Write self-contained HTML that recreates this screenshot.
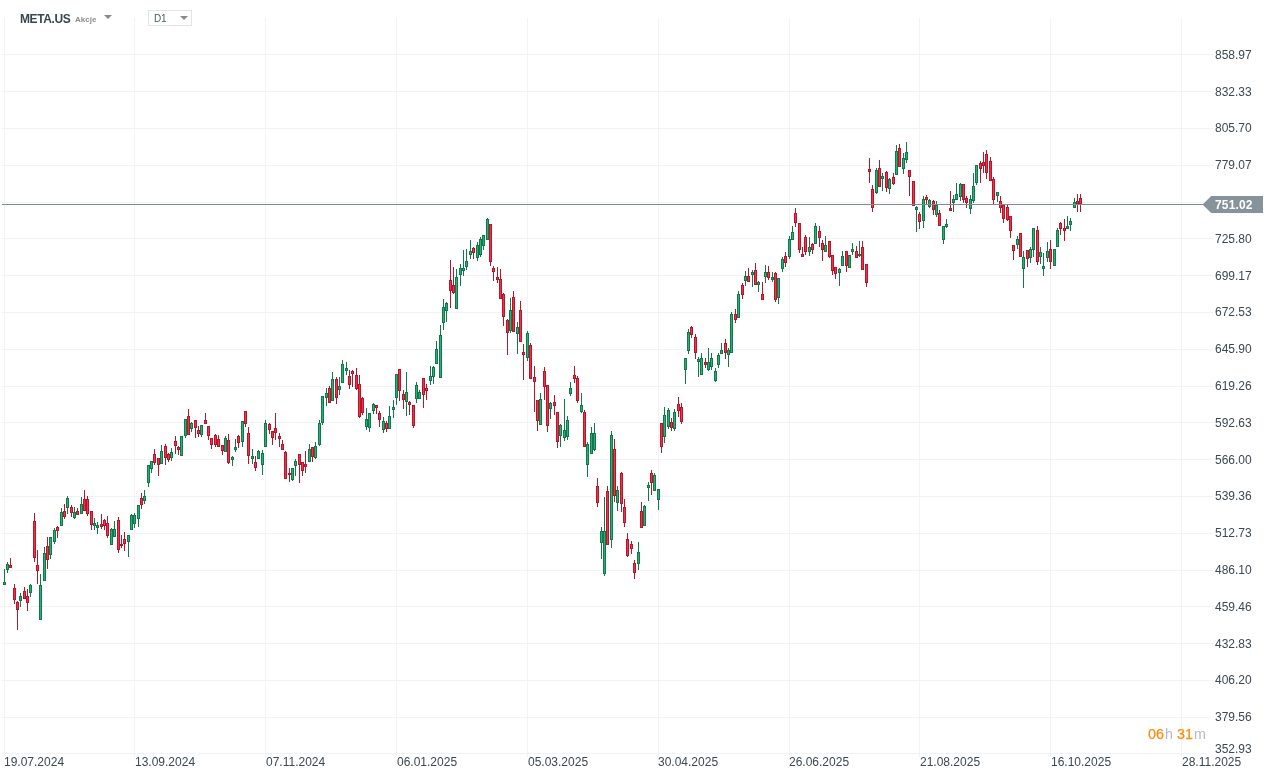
<!DOCTYPE html>
<html><head><meta charset="utf-8"><title>META.US</title>
<style>
html,body{margin:0;padding:0;background:#fff;}
div{will-change:transform;}
body{width:1275px;height:779px;overflow:hidden;position:relative;font-family:"Liberation Sans",Arial,sans-serif;}
svg{position:absolute;left:0;top:0;}
.pl{position:absolute;left:1215px;font-size:12px;line-height:14px;color:#3c4852;white-space:nowrap;}
.dl{position:absolute;top:755px;font-size:12px;line-height:14px;color:#3c4852;white-space:nowrap;}
.tag{position:absolute;left:1215px;top:197.5px;font-size:12px;line-height:14px;font-weight:bold;color:#fff;letter-spacing:0.15px;}
.sym{position:absolute;left:20px;top:12px;font-size:12px;line-height:14px;font-weight:bold;color:#37474f;letter-spacing:-0.4px;}
.typ{position:absolute;left:75px;top:15px;font-size:8px;line-height:10px;font-weight:bold;color:#8d8d8d;}
.tri{position:absolute;width:0;height:0;border-left:4px solid transparent;border-right:4px solid transparent;border-top:4px solid #888;}
.tf{position:absolute;left:148px;top:10px;width:42px;height:14px;border:1px solid #e2e5e8;}
.tf span{position:absolute;left:5px;top:1.5px;font-size:10px;line-height:12px;color:#4a5a63;letter-spacing:-0.3px;}
.cd{position:absolute;top:725.5px;font-size:14.3px;line-height:16px;white-space:nowrap;}
.o{color:#ff8c0a;-webkit-text-stroke:0.25px currentColor;} .g{color:#b3bcc1;}
</style></head><body>
<svg width="1275" height="779" viewBox="0 0 1275 779" shape-rendering="crispEdges">
<rect x="2" y="54" width="1211" height="1" fill="#f2f3f6"/>
<rect x="2" y="91" width="1211" height="1" fill="#f2f3f6"/>
<rect x="2" y="128" width="1211" height="1" fill="#f2f3f6"/>
<rect x="2" y="165" width="1211" height="1" fill="#f2f3f6"/>
<rect x="2" y="202" width="1211" height="1" fill="#f2f3f6"/>
<rect x="2" y="238" width="1211" height="1" fill="#f2f3f6"/>
<rect x="2" y="275" width="1211" height="1" fill="#f2f3f6"/>
<rect x="2" y="312" width="1211" height="1" fill="#f2f3f6"/>
<rect x="2" y="349" width="1211" height="1" fill="#f2f3f6"/>
<rect x="2" y="386" width="1211" height="1" fill="#f2f3f6"/>
<rect x="2" y="422" width="1211" height="1" fill="#f2f3f6"/>
<rect x="2" y="459" width="1211" height="1" fill="#f2f3f6"/>
<rect x="2" y="496" width="1211" height="1" fill="#f2f3f6"/>
<rect x="2" y="533" width="1211" height="1" fill="#f2f3f6"/>
<rect x="2" y="570" width="1211" height="1" fill="#f2f3f6"/>
<rect x="2" y="606" width="1211" height="1" fill="#f2f3f6"/>
<rect x="2" y="643" width="1211" height="1" fill="#f2f3f6"/>
<rect x="2" y="680" width="1211" height="1" fill="#f2f3f6"/>
<rect x="2" y="717" width="1211" height="1" fill="#f2f3f6"/>
<rect x="2" y="753" width="1205" height="1" fill="#f2f3f6"/>
<rect x="4" y="18" width="1" height="739" fill="#f2f3f6"/>
<rect x="134" y="18" width="1" height="739" fill="#f2f3f6"/>
<rect x="265" y="18" width="1" height="739" fill="#f2f3f6"/>
<rect x="396" y="18" width="1" height="739" fill="#f2f3f6"/>
<rect x="527" y="18" width="1" height="739" fill="#f2f3f6"/>
<rect x="658" y="18" width="1" height="739" fill="#f2f3f6"/>
<rect x="789" y="18" width="1" height="739" fill="#f2f3f6"/>
<rect x="919" y="18" width="1" height="739" fill="#f2f3f6"/>
<rect x="1050" y="18" width="1" height="739" fill="#f2f3f6"/>
<rect x="1181" y="18" width="1" height="739" fill="#f2f3f6"/>
<path fill="#10784b" d="M4 569h1v13h-1zM7 562h1v2h-1zM7 570h1v3h-1zM20 593h1v3h-1zM20 601h1v6h-1zM30 584h1v1h-1zM30 593h1v4h-1zM40 574h1v11h-1zM44 547h1v6h-1zM50 555h1v4h-1zM54 528h1v2h-1zM54 542h1v2h-1zM61 508h1v4h-1zM67 496h1v2h-1zM67 508h1v6h-1zM74 507h1v5h-1zM74 518h1v1h-1zM81 497h1v7h-1zM94 518h1v5h-1zM94 526h1v4h-1zM97 522h1v3h-1zM97 528h1v6h-1zM111 528h1v1h-1zM114 521h1v8h-1zM128 542h1v15h-1zM131 514h1v1h-1zM134 513h1v2h-1zM134 524h1v4h-1zM138 519h1v8h-1zM144 490h1v6h-1zM144 501h1v3h-1zM148 483h1v4h-1zM151 469h1v4h-1zM161 445h1v6h-1zM171 448h1v4h-1zM171 458h1v3h-1zM185 436h1v2h-1zM191 422h1v1h-1zM191 429h1v3h-1zM201 435h1v2h-1zM225 436h1v2h-1zM232 456h1v1h-1zM232 460h1v6h-1zM235 439h1v8h-1zM235 450h1v2h-1zM242 442h1v5h-1zM252 449h1v7h-1zM252 459h1v5h-1zM258 450h1v1h-1zM262 450h1v3h-1zM262 465h1v10h-1zM265 420h1v3h-1zM292 480h1v1h-1zM295 459h1v2h-1zM295 466h1v10h-1zM309 444h1v5h-1zM315 442h1v4h-1zM315 458h1v1h-1zM319 420h1v3h-1zM319 445h1v1h-1zM322 423h1v2h-1zM326 388h1v5h-1zM326 398h1v8h-1zM332 372h1v7h-1zM339 377h1v9h-1zM339 390h1v5h-1zM342 360h1v4h-1zM346 362h1v6h-1zM346 371h1v4h-1zM366 408h1v11h-1zM366 427h1v3h-1zM369 428h1v4h-1zM373 403h1v1h-1zM373 411h1v3h-1zM383 417h1v4h-1zM383 430h1v3h-1zM389 406h1v10h-1zM393 400h1v7h-1zM393 410h1v8h-1zM396 398h1v7h-1zM406 372h1v20h-1zM406 402h1v14h-1zM416 382h1v3h-1zM416 399h1v4h-1zM419 390h1v2h-1zM430 366h1v10h-1zM430 381h1v4h-1zM433 366h1v1h-1zM433 377h1v7h-1zM436 341h1v8h-1zM440 325h1v10h-1zM443 299h1v8h-1zM443 323h1v7h-1zM446 302h1v1h-1zM446 311h1v11h-1zM456 269h1v8h-1zM460 264h1v4h-1zM460 275h1v11h-1zM463 250h1v18h-1zM463 271h1v5h-1zM466 249h1v12h-1zM466 267h1v3h-1zM470 240h1v11h-1zM470 255h1v4h-1zM477 242h1v3h-1zM477 258h1v3h-1zM480 237h1v2h-1zM480 255h1v2h-1zM483 246h1v4h-1zM487 218h1v1h-1zM510 298h1v12h-1zM510 331h1v2h-1zM517 322h1v5h-1zM517 334h1v20h-1zM527 331h1v2h-1zM527 358h1v3h-1zM540 393h1v6h-1zM550 402h1v1h-1zM550 409h1v10h-1zM560 424h1v1h-1zM560 436h1v11h-1zM564 399h1v31h-1zM564 438h1v3h-1zM567 416h1v4h-1zM567 437h1v3h-1zM570 382h1v6h-1zM570 394h1v2h-1zM581 393h1v12h-1zM581 412h1v1h-1zM587 442h1v2h-1zM587 465h1v12h-1zM591 427h1v6h-1zM594 423h1v10h-1zM594 450h1v1h-1zM601 527h1v4h-1zM601 543h1v16h-1zM604 497h1v34h-1zM604 574h1v2h-1zM611 431h1v4h-1zM611 540h1v8h-1zM617 486h1v4h-1zM617 503h1v8h-1zM638 542h1v10h-1zM638 564h1v6h-1zM644 505h1v1h-1zM648 482h1v3h-1zM648 488h1v13h-1zM654 473h1v2h-1zM658 500h1v10h-1zM664 407h1v8h-1zM664 437h1v6h-1zM668 408h1v2h-1zM668 427h1v2h-1zM674 409h1v3h-1zM674 429h1v2h-1zM685 370h1v14h-1zM688 329h1v3h-1zM688 351h1v3h-1zM698 357h1v2h-1zM698 362h1v15h-1zM701 353h1v5h-1zM708 348h1v14h-1zM708 370h1v1h-1zM711 353h1v5h-1zM711 367h1v3h-1zM715 368h1v3h-1zM715 381h1v1h-1zM718 353h1v2h-1zM718 365h1v3h-1zM721 343h1v7h-1zM728 348h1v2h-1zM728 355h1v12h-1zM731 312h1v2h-1zM738 291h1v3h-1zM745 271h1v5h-1zM745 281h1v5h-1zM752 270h1v2h-1zM752 275h1v12h-1zM758 281h1v1h-1zM758 285h1v7h-1zM765 265h1v7h-1zM765 277h1v6h-1zM772 272h1v5h-1zM772 280h1v2h-1zM778 298h1v6h-1zM782 257h1v2h-1zM782 269h1v3h-1zM789 236h1v3h-1zM789 257h1v2h-1zM792 226h1v6h-1zM809 237h1v10h-1zM809 252h1v4h-1zM815 223h1v3h-1zM825 236h1v9h-1zM839 268h1v1h-1zM839 273h1v13h-1zM842 251h1v5h-1zM852 243h1v6h-1zM852 252h1v3h-1zM859 241h1v13h-1zM859 256h1v1h-1zM876 168h1v2h-1zM876 193h1v1h-1zM882 173h1v3h-1zM882 179h1v12h-1zM889 178h1v1h-1zM889 189h1v5h-1zM896 145h1v6h-1zM903 153h1v5h-1zM903 169h1v5h-1zM906 142h1v10h-1zM906 160h1v3h-1zM916 206h1v1h-1zM916 210h1v22h-1zM923 196h1v3h-1zM923 221h1v7h-1zM929 199h1v1h-1zM929 207h1v1h-1zM936 201h1v4h-1zM936 215h1v2h-1zM943 240h1v4h-1zM946 219h1v5h-1zM946 227h1v1h-1zM953 195h1v4h-1zM953 203h1v9h-1zM956 183h1v11h-1zM960 183h1v1h-1zM960 197h1v4h-1zM970 195h1v4h-1zM970 209h1v5h-1zM973 173h1v13h-1zM973 201h1v2h-1zM976 183h1v2h-1zM997 196h1v6h-1zM1017 236h1v3h-1zM1017 245h1v4h-1zM1023 251h1v6h-1zM1023 269h1v19h-1zM1030 247h1v2h-1zM1030 258h1v5h-1zM1033 250h1v7h-1zM1040 247h1v5h-1zM1040 257h1v7h-1zM1043 253h1v13h-1zM1043 269h1v7h-1zM1047 242h1v9h-1zM1047 258h1v4h-1zM1057 228h1v2h-1zM1067 216h1v10h-1zM1070 218h1v3h-1zM1070 225h1v6h-1zM1074 198h1v4h-1z"/>
<path fill="#10784b" d="M3 582h3v3h-3zM6 564h3v6h-3zM19 596h3v5h-3zM29 585h3v8h-3zM39 585h3v35h-3zM43 553h3v28h-3zM49 537h3v18h-3zM53 530h3v12h-3zM60 512h3v14h-3zM66 498h3v10h-3zM73 512h3v6h-3zM80 504h3v10h-3zM93 523h3v3h-3zM96 525h3v3h-3zM110 529h3v16h-3zM113 529h3v8h-3zM127 535h3v7h-3zM130 515h3v15h-3zM133 515h3v9h-3zM137 505h3v14h-3zM143 496h3v5h-3zM147 465h3v18h-3zM150 461h3v8h-3zM160 451h3v13h-3zM170 452h3v6h-3zM180 436h3v20h-3zM184 419h3v17h-3zM190 423h3v6h-3zM200 425h3v10h-3zM224 438h3v14h-3zM231 457h3v3h-3zM234 447h3v3h-3zM241 421h3v21h-3zM251 456h3v3h-3zM257 451h3v8h-3zM261 453h3v12h-3zM264 423h3v24h-3zM291 468h3v12h-3zM294 461h3v5h-3zM308 449h3v13h-3zM314 446h3v12h-3zM318 423h3v22h-3zM321 396h3v27h-3zM325 393h3v5h-3zM331 379h3v22h-3zM338 386h3v4h-3zM341 364h3v19h-3zM345 368h3v3h-3zM365 419h3v8h-3zM368 413h3v15h-3zM372 404h3v7h-3zM382 421h3v9h-3zM388 416h3v13h-3zM392 407h3v3h-3zM395 374h3v24h-3zM405 392h3v10h-3zM415 385h3v14h-3zM418 392h3v7h-3zM429 376h3v5h-3zM432 367h3v10h-3zM435 349h3v15h-3zM439 335h3v43h-3zM442 307h3v16h-3zM445 303h3v8h-3zM455 277h3v32h-3zM459 268h3v7h-3zM462 268h3v3h-3zM465 261h3v6h-3zM469 251h3v4h-3zM476 245h3v13h-3zM479 239h3v16h-3zM482 235h3v11h-3zM486 219h3v21h-3zM509 310h3v21h-3zM516 327h3v7h-3zM526 333h3v25h-3zM539 399h3v26h-3zM549 403h3v6h-3zM559 425h3v11h-3zM563 430h3v8h-3zM566 420h3v17h-3zM569 388h3v6h-3zM580 405h3v7h-3zM586 444h3v21h-3zM590 433h3v21h-3zM593 433h3v17h-3zM600 531h3v12h-3zM603 531h3v43h-3zM610 435h3v105h-3zM616 490h3v13h-3zM637 552h3v12h-3zM643 506h3v20h-3zM647 485h3v3h-3zM653 475h3v16h-3zM657 489h3v11h-3zM663 415h3v22h-3zM667 410h3v17h-3zM673 412h3v17h-3zM684 358h3v12h-3zM687 332h3v19h-3zM697 359h3v3h-3zM700 358h3v17h-3zM707 362h3v8h-3zM710 358h3v9h-3zM714 371h3v10h-3zM717 355h3v10h-3zM720 350h3v4h-3zM727 350h3v5h-3zM730 314h3v39h-3zM737 294h3v24h-3zM744 276h3v5h-3zM751 272h3v3h-3zM757 282h3v3h-3zM764 272h3v5h-3zM771 277h3v3h-3zM777 278h3v20h-3zM781 259h3v10h-3zM788 239h3v18h-3zM791 232h3v8h-3zM808 247h3v5h-3zM814 226h3v18h-3zM824 245h3v7h-3zM838 269h3v4h-3zM841 256h3v10h-3zM848 255h3v13h-3zM851 249h3v3h-3zM858 254h3v2h-3zM875 170h3v23h-3zM881 176h3v3h-3zM888 179h3v10h-3zM895 151h3v24h-3zM902 158h3v11h-3zM905 152h3v8h-3zM915 207h3v3h-3zM922 199h3v22h-3zM928 200h3v7h-3zM935 205h3v10h-3zM942 226h3v14h-3zM945 224h3v3h-3zM952 199h3v4h-3zM955 194h3v6h-3zM959 184h3v13h-3zM969 199h3v10h-3zM972 186h3v15h-3zM975 165h3v18h-3zM996 192h3v4h-3zM1016 239h3v6h-3zM1022 257h3v12h-3zM1029 249h3v9h-3zM1032 228h3v22h-3zM1039 252h3v5h-3zM1042 266h3v3h-3zM1046 251h3v7h-3zM1053 249h3v17h-3zM1056 230h3v17h-3zM1066 226h3v3h-3zM1069 221h3v4h-3zM1073 202h3v6h-3z"/>
<path fill="#26b273" d="M4 583h1v1h-1zM7 565h1v4h-1zM20 597h1v3h-1zM30 586h1v6h-1zM40 586h1v33h-1zM44 554h1v26h-1zM50 538h1v16h-1zM54 531h1v10h-1zM61 513h1v12h-1zM67 499h1v8h-1zM74 513h1v4h-1zM81 505h1v8h-1zM94 524h1v1h-1zM97 526h1v1h-1zM111 530h1v14h-1zM114 530h1v6h-1zM128 536h1v5h-1zM131 516h1v13h-1zM134 516h1v7h-1zM138 506h1v12h-1zM144 497h1v3h-1zM148 466h1v16h-1zM151 462h1v6h-1zM161 452h1v11h-1zM171 453h1v4h-1zM181 437h1v18h-1zM185 420h1v15h-1zM191 424h1v4h-1zM201 426h1v8h-1zM225 439h1v12h-1zM232 458h1v1h-1zM235 448h1v1h-1zM242 422h1v19h-1zM252 457h1v1h-1zM258 452h1v6h-1zM262 454h1v10h-1zM265 424h1v22h-1zM292 469h1v10h-1zM295 462h1v3h-1zM309 450h1v11h-1zM315 447h1v10h-1zM319 424h1v20h-1zM322 397h1v25h-1zM326 394h1v3h-1zM332 380h1v20h-1zM339 387h1v2h-1zM342 365h1v17h-1zM346 369h1v1h-1zM366 420h1v6h-1zM369 414h1v13h-1zM373 405h1v5h-1zM383 422h1v7h-1zM389 417h1v11h-1zM393 408h1v1h-1zM396 375h1v22h-1zM406 393h1v8h-1zM416 386h1v12h-1zM419 393h1v5h-1zM430 377h1v3h-1zM433 368h1v8h-1zM436 350h1v13h-1zM440 336h1v41h-1zM443 308h1v14h-1zM446 304h1v6h-1zM456 278h1v30h-1zM460 269h1v5h-1zM463 269h1v1h-1zM466 262h1v4h-1zM470 252h1v2h-1zM477 246h1v11h-1zM480 240h1v14h-1zM483 236h1v9h-1zM487 220h1v19h-1zM510 311h1v19h-1zM517 328h1v5h-1zM527 334h1v23h-1zM540 400h1v24h-1zM550 404h1v4h-1zM560 426h1v9h-1zM564 431h1v6h-1zM567 421h1v15h-1zM570 389h1v4h-1zM581 406h1v5h-1zM587 445h1v19h-1zM591 434h1v19h-1zM594 434h1v15h-1zM601 532h1v10h-1zM604 532h1v41h-1zM611 436h1v103h-1zM617 491h1v11h-1zM638 553h1v10h-1zM644 507h1v18h-1zM648 486h1v1h-1zM654 476h1v14h-1zM658 490h1v9h-1zM664 416h1v20h-1zM668 411h1v15h-1zM674 413h1v15h-1zM685 359h1v10h-1zM688 333h1v17h-1zM698 360h1v1h-1zM701 359h1v15h-1zM708 363h1v6h-1zM711 359h1v7h-1zM715 372h1v8h-1zM718 356h1v8h-1zM721 351h1v2h-1zM728 351h1v3h-1zM731 315h1v37h-1zM738 295h1v22h-1zM745 277h1v3h-1zM752 273h1v1h-1zM758 283h1v1h-1zM765 273h1v3h-1zM772 278h1v1h-1zM778 279h1v18h-1zM782 260h1v8h-1zM789 240h1v16h-1zM792 233h1v6h-1zM809 248h1v3h-1zM815 227h1v16h-1zM825 246h1v5h-1zM839 270h1v2h-1zM842 257h1v8h-1zM849 256h1v11h-1zM852 250h1v1h-1zM876 171h1v21h-1zM882 177h1v1h-1zM889 180h1v8h-1zM896 152h1v22h-1zM903 159h1v9h-1zM906 153h1v6h-1zM916 208h1v1h-1zM923 200h1v20h-1zM929 201h1v5h-1zM936 206h1v8h-1zM943 227h1v12h-1zM946 225h1v1h-1zM953 200h1v2h-1zM956 195h1v4h-1zM960 185h1v11h-1zM970 200h1v8h-1zM973 187h1v13h-1zM976 166h1v16h-1zM997 193h1v2h-1zM1017 240h1v4h-1zM1023 258h1v10h-1zM1030 250h1v7h-1zM1033 229h1v20h-1zM1040 253h1v3h-1zM1043 267h1v1h-1zM1047 252h1v5h-1zM1054 250h1v15h-1zM1057 231h1v15h-1zM1067 227h1v1h-1zM1070 222h1v2h-1zM1074 203h1v4h-1z"/>
<path fill="#b3172c" d="M10 558h1v7h-1zM14 584h1v4h-1zM14 600h1v4h-1zM17 601h1v1h-1zM17 610h1v20h-1zM24 587h1v4h-1zM27 589h1v7h-1zM27 603h1v8h-1zM34 513h1v8h-1zM34 558h1v4h-1zM37 550h1v15h-1zM37 571h1v13h-1zM47 537h1v9h-1zM47 560h1v9h-1zM57 526h1v1h-1zM57 531h1v7h-1zM64 504h1v7h-1zM64 517h1v2h-1zM71 505h1v2h-1zM71 513h1v4h-1zM77 508h1v3h-1zM84 490h1v9h-1zM87 496h1v3h-1zM87 514h1v2h-1zM91 525h1v5h-1zM101 514h1v10h-1zM101 527h1v2h-1zM104 519h1v1h-1zM104 526h1v4h-1zM107 516h1v7h-1zM107 536h1v2h-1zM118 517h1v3h-1zM118 550h1v3h-1zM121 535h1v9h-1zM121 546h1v2h-1zM124 532h1v7h-1zM124 544h1v7h-1zM141 493h1v5h-1zM141 505h1v4h-1zM154 449h1v5h-1zM154 463h1v2h-1zM158 465h1v11h-1zM165 444h1v2h-1zM165 458h1v7h-1zM168 453h1v1h-1zM168 460h1v2h-1zM175 436h1v5h-1zM175 446h1v8h-1zM178 446h1v1h-1zM178 450h1v5h-1zM188 409h1v7h-1zM195 428h1v10h-1zM198 426h1v4h-1zM198 434h1v3h-1zM205 413h1v7h-1zM208 436h1v4h-1zM211 445h1v4h-1zM215 434h1v1h-1zM215 445h1v2h-1zM218 435h1v4h-1zM222 451h1v4h-1zM228 434h1v6h-1zM228 463h1v1h-1zM238 435h1v1h-1zM238 443h1v5h-1zM245 424h1v3h-1zM248 427h1v6h-1zM248 456h1v8h-1zM255 456h1v6h-1zM255 468h1v3h-1zM269 423h1v1h-1zM269 430h1v4h-1zM272 438h1v7h-1zM275 413h1v15h-1zM275 433h1v7h-1zM279 433h1v3h-1zM279 439h1v8h-1zM282 440h1v4h-1zM285 451h1v1h-1zM289 468h1v5h-1zM289 475h1v7h-1zM299 465h1v18h-1zM302 471h1v5h-1zM305 451h1v13h-1zM305 467h1v6h-1zM312 457h1v5h-1zM329 386h1v2h-1zM336 377h1v2h-1zM336 398h1v6h-1zM349 370h1v6h-1zM349 385h1v4h-1zM352 370h1v1h-1zM352 374h1v13h-1zM356 368h1v7h-1zM356 389h1v1h-1zM359 375h1v9h-1zM359 417h1v1h-1zM362 397h1v1h-1zM362 413h1v2h-1zM376 408h1v6h-1zM379 411h1v2h-1zM379 420h1v7h-1zM386 421h1v2h-1zM386 429h1v3h-1zM399 391h1v10h-1zM403 390h1v4h-1zM403 400h1v9h-1zM409 401h1v1h-1zM409 405h1v10h-1zM413 426h1v2h-1zM423 395h1v13h-1zM426 384h1v4h-1zM426 391h1v9h-1zM450 260h1v20h-1zM450 291h1v17h-1zM453 267h1v18h-1zM453 293h1v1h-1zM473 247h1v1h-1zM473 253h1v6h-1zM490 262h1v4h-1zM493 266h1v2h-1zM493 272h1v9h-1zM497 267h1v10h-1zM497 280h1v3h-1zM500 269h1v10h-1zM503 293h1v1h-1zM503 317h1v9h-1zM507 319h1v1h-1zM507 333h1v22h-1zM513 291h1v6h-1zM520 301h1v9h-1zM523 344h1v8h-1zM523 355h1v25h-1zM530 343h1v2h-1zM534 366h1v11h-1zM534 382h1v30h-1zM537 421h1v10h-1zM544 367h1v4h-1zM544 387h1v13h-1zM547 426h1v6h-1zM554 395h1v7h-1zM554 406h1v9h-1zM557 442h1v6h-1zM574 366h1v9h-1zM574 379h1v4h-1zM577 376h1v2h-1zM577 401h1v2h-1zM584 410h1v2h-1zM597 478h1v8h-1zM597 503h1v4h-1zM607 486h1v5h-1zM614 439h1v10h-1zM614 496h1v6h-1zM621 472h1v1h-1zM621 504h1v8h-1zM624 499h1v8h-1zM624 523h1v4h-1zM627 533h1v6h-1zM627 556h1v1h-1zM631 541h1v3h-1zM631 549h1v5h-1zM634 560h1v3h-1zM634 573h1v6h-1zM641 502h1v9h-1zM651 470h1v3h-1zM651 483h1v12h-1zM661 447h1v6h-1zM671 418h1v4h-1zM671 428h1v3h-1zM678 397h1v7h-1zM678 411h1v6h-1zM681 403h1v4h-1zM681 422h1v2h-1zM691 326h1v1h-1zM691 335h1v3h-1zM695 334h1v3h-1zM695 353h1v6h-1zM705 358h1v4h-1zM705 365h1v3h-1zM725 339h1v4h-1zM725 353h1v6h-1zM735 309h1v5h-1zM735 320h1v3h-1zM742 283h1v2h-1zM742 295h1v4h-1zM748 268h1v8h-1zM755 263h1v7h-1zM762 282h1v12h-1zM768 266h1v6h-1zM768 278h1v2h-1zM775 272h1v1h-1zM775 300h1v2h-1zM785 252h1v4h-1zM785 263h1v4h-1zM795 208h1v5h-1zM795 223h1v4h-1zM799 250h1v3h-1zM802 247h1v7h-1zM805 235h1v2h-1zM805 252h1v3h-1zM812 243h1v1h-1zM812 250h1v4h-1zM819 226h1v5h-1zM819 238h1v9h-1zM822 240h1v3h-1zM822 250h1v11h-1zM829 257h1v1h-1zM832 271h1v4h-1zM835 274h1v5h-1zM846 266h1v6h-1zM856 246h1v5h-1zM862 241h1v6h-1zM866 283h1v4h-1zM869 158h1v11h-1zM869 172h1v11h-1zM872 185h1v4h-1zM872 208h1v4h-1zM879 160h1v8h-1zM886 171h1v1h-1zM886 188h1v4h-1zM893 173h1v4h-1zM893 184h1v1h-1zM899 144h1v4h-1zM909 177h1v19h-1zM919 212h1v2h-1zM919 222h1v7h-1zM926 195h1v2h-1zM926 200h1v4h-1zM933 200h1v1h-1zM933 210h1v5h-1zM939 210h1v3h-1zM950 191h1v17h-1zM963 200h1v3h-1zM966 196h1v2h-1zM966 203h1v5h-1zM980 161h1v2h-1zM980 169h1v14h-1zM983 152h1v10h-1zM983 166h1v7h-1zM986 150h1v4h-1zM986 173h1v6h-1zM990 157h1v4h-1zM993 177h1v2h-1zM993 200h1v5h-1zM1000 196h1v5h-1zM1000 208h1v5h-1zM1003 219h1v4h-1zM1007 205h1v2h-1zM1007 220h1v1h-1zM1010 231h1v7h-1zM1013 251h1v9h-1zM1027 259h1v8h-1zM1037 226h1v4h-1zM1037 262h1v3h-1zM1050 240h1v9h-1zM1050 262h1v7h-1zM1060 222h1v1h-1zM1060 229h1v6h-1zM1064 219h1v9h-1zM1064 231h1v10h-1zM1077 194h1v7h-1zM1077 204h1v8h-1zM1080 194h1v4h-1zM1080 204h1v8h-1z"/>
<path fill="#b3172c" d="M9 565h3v3h-3zM13 588h3v12h-3zM16 602h3v8h-3zM23 591h3v8h-3zM26 596h3v7h-3zM33 521h3v37h-3zM36 565h3v6h-3zM46 546h3v14h-3zM56 527h3v4h-3zM63 511h3v6h-3zM70 507h3v6h-3zM76 511h3v4h-3zM83 499h3v12h-3zM86 499h3v15h-3zM90 511h3v14h-3zM100 524h3v3h-3zM103 520h3v6h-3zM106 523h3v13h-3zM117 520h3v30h-3zM120 544h3v2h-3zM123 539h3v5h-3zM140 498h3v7h-3zM153 454h3v9h-3zM157 458h3v7h-3zM164 446h3v12h-3zM167 454h3v6h-3zM174 441h3v5h-3zM177 447h3v3h-3zM187 416h3v19h-3zM194 420h3v8h-3zM197 430h3v4h-3zM204 420h3v4h-3zM207 426h3v10h-3zM210 438h3v7h-3zM214 435h3v10h-3zM217 439h3v8h-3zM221 445h3v6h-3zM227 440h3v23h-3zM237 436h3v7h-3zM244 411h3v13h-3zM247 433h3v23h-3zM254 462h3v6h-3zM268 424h3v6h-3zM271 431h3v7h-3zM274 428h3v5h-3zM278 436h3v3h-3zM281 444h3v6h-3zM284 452h3v27h-3zM288 473h3v2h-3zM298 454h3v11h-3zM301 462h3v9h-3zM304 464h3v3h-3zM311 447h3v10h-3zM328 388h3v15h-3zM335 379h3v19h-3zM348 376h3v9h-3zM351 371h3v3h-3zM355 375h3v14h-3zM358 384h3v33h-3zM361 398h3v15h-3zM375 405h3v3h-3zM378 413h3v7h-3zM385 423h3v6h-3zM398 369h3v22h-3zM402 394h3v6h-3zM408 402h3v3h-3zM412 405h3v21h-3zM422 378h3v17h-3zM425 388h3v3h-3zM449 280h3v11h-3zM452 285h3v8h-3zM472 248h3v5h-3zM489 224h3v38h-3zM492 268h3v4h-3zM496 277h3v3h-3zM499 279h3v20h-3zM502 294h3v23h-3zM506 320h3v13h-3zM512 297h3v35h-3zM519 310h3v32h-3zM522 352h3v3h-3zM529 345h3v34h-3zM533 377h3v5h-3zM536 400h3v21h-3zM543 371h3v16h-3zM546 385h3v41h-3zM553 402h3v4h-3zM556 412h3v30h-3zM573 375h3v4h-3zM576 378h3v23h-3zM583 412h3v35h-3zM596 486h3v17h-3zM606 491h3v54h-3zM613 449h3v47h-3zM620 473h3v31h-3zM623 507h3v16h-3zM626 539h3v17h-3zM630 544h3v5h-3zM633 563h3v10h-3zM640 511h3v17h-3zM650 473h3v10h-3zM660 423h3v24h-3zM670 422h3v6h-3zM677 404h3v7h-3zM680 407h3v15h-3zM690 327h3v8h-3zM694 337h3v16h-3zM704 362h3v3h-3zM724 343h3v10h-3zM734 314h3v6h-3zM741 285h3v10h-3zM747 276h3v6h-3zM754 270h3v15h-3zM761 294h3v6h-3zM767 272h3v6h-3zM774 273h3v27h-3zM784 256h3v7h-3zM794 213h3v10h-3zM798 223h3v27h-3zM801 254h3v3h-3zM804 237h3v15h-3zM811 244h3v6h-3zM818 231h3v7h-3zM821 243h3v7h-3zM828 241h3v16h-3zM831 255h3v16h-3zM834 267h3v7h-3zM845 251h3v15h-3zM855 251h3v7h-3zM861 247h3v23h-3zM865 264h3v19h-3zM868 169h3v3h-3zM871 189h3v19h-3zM878 168h3v19h-3zM885 172h3v16h-3zM892 177h3v7h-3zM898 148h3v19h-3zM908 170h3v7h-3zM912 181h3v25h-3zM918 214h3v8h-3zM925 197h3v3h-3zM932 201h3v9h-3zM938 213h3v13h-3zM949 208h3v3h-3zM962 184h3v16h-3zM965 198h3v5h-3zM979 163h3v6h-3zM982 162h3v4h-3zM985 154h3v19h-3zM989 161h3v20h-3zM992 179h3v21h-3zM999 201h3v7h-3zM1002 205h3v14h-3zM1006 207h3v13h-3zM1009 216h3v15h-3zM1012 245h3v6h-3zM1019 233h3v24h-3zM1026 250h3v9h-3zM1036 230h3v32h-3zM1049 249h3v13h-3zM1059 223h3v6h-3zM1063 228h3v3h-3zM1076 201h3v3h-3zM1079 198h3v6h-3z"/>
<path fill="#fb2c45" d="M10 566h1v1h-1zM14 589h1v10h-1zM17 603h1v6h-1zM24 592h1v6h-1zM27 597h1v5h-1zM34 522h1v35h-1zM37 566h1v4h-1zM47 547h1v12h-1zM57 528h1v2h-1zM64 512h1v4h-1zM71 508h1v4h-1zM77 512h1v2h-1zM84 500h1v10h-1zM87 500h1v13h-1zM91 512h1v12h-1zM101 525h1v1h-1zM104 521h1v4h-1zM107 524h1v11h-1zM118 521h1v28h-1zM124 540h1v3h-1zM141 499h1v5h-1zM154 455h1v7h-1zM158 459h1v5h-1zM165 447h1v10h-1zM168 455h1v4h-1zM175 442h1v3h-1zM178 448h1v1h-1zM188 417h1v17h-1zM195 421h1v6h-1zM198 431h1v2h-1zM205 421h1v2h-1zM208 427h1v8h-1zM211 439h1v5h-1zM215 436h1v8h-1zM218 440h1v6h-1zM222 446h1v4h-1zM228 441h1v21h-1zM238 437h1v5h-1zM245 412h1v11h-1zM248 434h1v21h-1zM255 463h1v4h-1zM269 425h1v4h-1zM272 432h1v5h-1zM275 429h1v3h-1zM279 437h1v1h-1zM282 445h1v4h-1zM285 453h1v25h-1zM299 455h1v9h-1zM302 463h1v7h-1zM305 465h1v1h-1zM312 448h1v8h-1zM329 389h1v13h-1zM336 380h1v17h-1zM349 377h1v7h-1zM352 372h1v1h-1zM356 376h1v12h-1zM359 385h1v31h-1zM362 399h1v13h-1zM376 406h1v1h-1zM379 414h1v5h-1zM386 424h1v4h-1zM399 370h1v20h-1zM403 395h1v4h-1zM409 403h1v1h-1zM413 406h1v19h-1zM423 379h1v15h-1zM426 389h1v1h-1zM450 281h1v9h-1zM453 286h1v6h-1zM473 249h1v3h-1zM490 225h1v36h-1zM493 269h1v2h-1zM497 278h1v1h-1zM500 280h1v18h-1zM503 295h1v21h-1zM507 321h1v11h-1zM513 298h1v33h-1zM520 311h1v30h-1zM523 353h1v1h-1zM530 346h1v32h-1zM534 378h1v3h-1zM537 401h1v19h-1zM544 372h1v14h-1zM547 386h1v39h-1zM554 403h1v2h-1zM557 413h1v28h-1zM574 376h1v2h-1zM577 379h1v21h-1zM584 413h1v33h-1zM597 487h1v15h-1zM607 492h1v52h-1zM614 450h1v45h-1zM621 474h1v29h-1zM624 508h1v14h-1zM627 540h1v15h-1zM631 545h1v3h-1zM634 564h1v8h-1zM641 512h1v15h-1zM651 474h1v8h-1zM661 424h1v22h-1zM671 423h1v4h-1zM678 405h1v5h-1zM681 408h1v13h-1zM691 328h1v6h-1zM695 338h1v14h-1zM705 363h1v1h-1zM725 344h1v8h-1zM735 315h1v4h-1zM742 286h1v8h-1zM748 277h1v4h-1zM755 271h1v13h-1zM762 295h1v4h-1zM768 273h1v4h-1zM775 274h1v25h-1zM785 257h1v5h-1zM795 214h1v8h-1zM799 224h1v25h-1zM802 255h1v1h-1zM805 238h1v13h-1zM812 245h1v4h-1zM819 232h1v5h-1zM822 244h1v5h-1zM829 242h1v14h-1zM832 256h1v14h-1zM835 268h1v5h-1zM846 252h1v13h-1zM856 252h1v5h-1zM862 248h1v21h-1zM866 265h1v17h-1zM869 170h1v1h-1zM872 190h1v17h-1zM879 169h1v17h-1zM886 173h1v14h-1zM893 178h1v5h-1zM899 149h1v17h-1zM909 171h1v5h-1zM913 182h1v23h-1zM919 215h1v6h-1zM926 198h1v1h-1zM933 202h1v7h-1zM939 214h1v11h-1zM950 209h1v1h-1zM963 185h1v14h-1zM966 199h1v3h-1zM980 164h1v4h-1zM983 163h1v2h-1zM986 155h1v17h-1zM990 162h1v18h-1zM993 180h1v19h-1zM1000 202h1v5h-1zM1003 206h1v12h-1zM1007 208h1v11h-1zM1010 217h1v13h-1zM1013 246h1v4h-1zM1020 234h1v22h-1zM1027 251h1v7h-1zM1037 231h1v30h-1zM1050 250h1v11h-1zM1060 224h1v4h-1zM1064 229h1v1h-1zM1077 202h1v1h-1zM1080 199h1v4h-1z"/>
<rect x="2" y="204" width="1202" height="1" fill="#7f8c92"/>
<polygon shape-rendering="geometricPrecision" points="1202.6,204.5 1211.2,196 1263,196 1263,213 1211.2,213" fill="#87939a"/>
</svg>
<div class="pl" style="top:47.90px">858.97</div>
<div class="pl" style="top:84.90px">832.33</div>
<div class="pl" style="top:120.90px">805.70</div>
<div class="pl" style="top:157.90px">779.07</div>
<div class="pl" style="top:231.90px">725.80</div>
<div class="pl" style="top:268.90px">699.17</div>
<div class="pl" style="top:304.90px">672.53</div>
<div class="pl" style="top:341.90px">645.90</div>
<div class="pl" style="top:378.90px">619.26</div>
<div class="pl" style="top:415.90px">592.63</div>
<div class="pl" style="top:452.90px">566.00</div>
<div class="pl" style="top:488.90px">539.36</div>
<div class="pl" style="top:525.90px">512.73</div>
<div class="pl" style="top:562.90px">486.10</div>
<div class="pl" style="top:599.90px">459.46</div>
<div class="pl" style="top:636.90px">432.83</div>
<div class="pl" style="top:672.90px">406.20</div>
<div class="pl" style="top:709.90px">379.56</div>
<div class="pl" style="top:741.90px">352.93</div>
<div class="dl" style="left:4.30px">19.07.2024</div>
<div class="dl" style="left:135.14px">13.09.2024</div>
<div class="dl" style="left:265.97px">07.11.2024</div>
<div class="dl" style="left:396.81px">06.01.2025</div>
<div class="dl" style="left:527.64px">05.03.2025</div>
<div class="dl" style="left:658.48px">30.04.2025</div>
<div class="dl" style="left:789.31px">26.06.2025</div>
<div class="dl" style="left:920.15px">21.08.2025</div>
<div class="dl" style="left:1050.98px">16.10.2025</div>
<div class="dl" style="left:1181.82px">28.11.2025</div>
<div class="tag">751.02</div>
<div class="sym">META.US</div>
<div class="typ">Akcje</div>
<div class="tri" style="left:104px;top:15px"></div>
<div class="tf"><span>D1</span><div class="tri" style="left:31px;top:5px"></div></div>
<div class="cd o" style="left:1148px">06</div><div class="cd g" style="left:1164.5px">h</div><div class="cd o" style="left:1176.5px">31</div><div class="cd g" style="left:1193.5px">m</div>
</body></html>
